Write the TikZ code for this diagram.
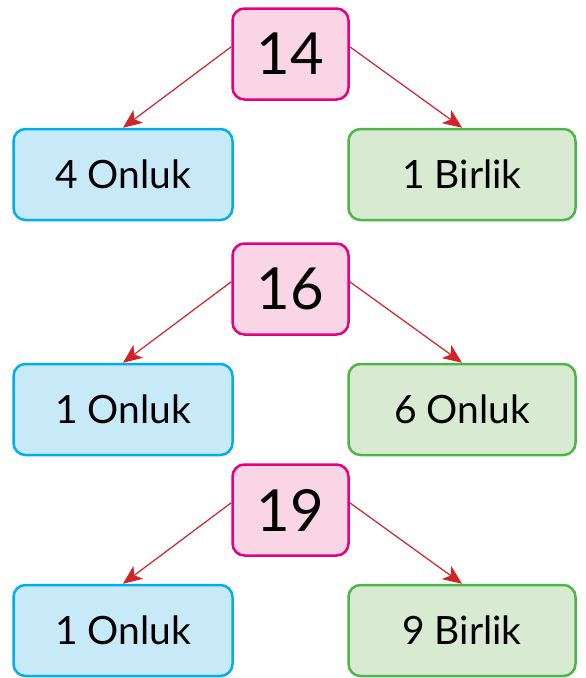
\documentclass[tikz,border=0pt]{standalone}
\usepackage{xcolor}
\usepackage{fontspec}
\setmainfont{Lato}
\usetikzlibrary{arrows.meta}

\definecolor{rosaborde}{HTML}{E6007E}
\definecolor{rosafondo}{HTML}{F9D5E6}
\definecolor{azulborde}{HTML}{00AEEF}
\definecolor{azulfondo}{HTML}{C8E9F8}
\definecolor{verdeborde}{HTML}{4CB748}
\definecolor{verdefondo}{HTML}{D9EAD3}
\definecolor{flecha}{HTML}{D2232A}

\begin{document}
\begin{tikzpicture}[x=1pt, y=-1pt,
    numero/.style={draw=rosaborde, fill=rosafondo, line width=2.5pt, rounded corners=12pt,
        minimum width=116pt, minimum height=91pt, font=\fontsize{58}{58}\selectfont},
    decena/.style={draw=azulborde, fill=azulfondo, line width=2.5pt, rounded corners=12pt,
        minimum width=219pt, minimum height=91pt, font=\fontsize{39}{39}\selectfont},
    unidad/.style={draw=verdeborde, fill=verdefondo, line width=2.5pt, rounded corners=12pt,
        minimum width=227pt, minimum height=91pt, font=\fontsize{39}{39}\selectfont},
    rama/.style={draw=flecha, line width=1.2pt, -{Stealth[length=19pt, width=16pt, inset=5pt]}}]

    % marco
    \useasboundingbox (0,0) rectangle (586,678);

    % primer numero
    \node[numero] (n1) at (290.5,54) {14};
    \node[decena] (d1) at (123,174.5) {4 Onluk};
    \node[unidad] (u1) at (462,174.5) {1 Birlik};
    \draw[rama] (n1.173) -- (d1.north);
    \draw[rama] (n1.7) -- (u1.north);

    % segundo numero
    \node[numero] (n2) at (290.5,289) {16};
    \node[decena] (d2) at (123,409.5) {1 Onluk};
    \node[unidad] (u2) at (462,409.5) {6 Onluk};
    \draw[rama] (n2.173) -- (d2.north);
    \draw[rama] (n2.7) -- (u2.north);

    % tercer numero
    \node[numero] (n3) at (290.5,510) {19};
    \node[decena] (d3) at (123,630.5) {1 Onluk};
    \node[unidad] (u3) at (462,630.5) {9 Birlik};
    \draw[rama] (n3.173) -- (d3.north);
    \draw[rama] (n3.7) -- (u3.north);
\end{tikzpicture}
\end{document}
